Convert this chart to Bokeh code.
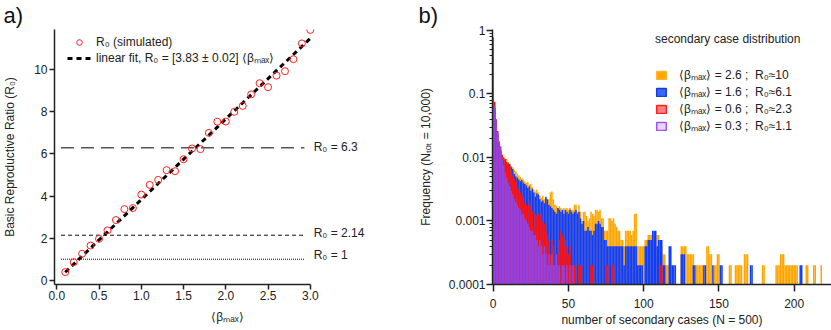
from bokeh.plotting import figure
from bokeh.layouts import row
from bokeh.models import (Legend, LegendItem, NumeralTickFormatter, FixedTicker,
                          CustomJSTickFormatter, Range1d)
from bokeh.core.properties import value
from bokeh.embed import file_html
from bokeh.resources import INLINE

FONT = "Liberation Sans"

# ---------------- panel a) data ----------------
beta_max = [0.1, 0.2, 0.3, 0.4, 0.5, 0.6, 0.7, 0.8, 0.9, 1.0,
            1.1, 1.2, 1.3, 1.4, 1.5, 1.6, 1.7, 1.8, 1.9, 2.0,
            2.1, 2.2, 2.3, 2.4, 2.5, 2.6, 2.7, 2.8, 2.9, 3.0]
r0_simulated = [0.39, 0.86, 1.26, 1.65, 1.97, 2.37, 2.86, 3.38, 3.43, 4.07,
                4.53, 4.77, 5.23, 5.18, 5.75, 6.26, 6.23, 7.00, 7.53, 7.54,
                8.00, 8.28, 8.83, 9.36, 9.17, 9.72, 9.93, 10.50, 11.25, 11.89]
fit_slope = 3.83
fit_x = [0.1, 3.0]
threshold_r0 = [6.3, 2.14, 1.0]
threshold_labels = ["R₀ = 6.3", "R₀ = 2.14", "R₀ = 1"]
threshold_x = [0.05, 2.93]

# ---------------- panel b) data (counts out of N_tot = 10,000; index = number of secondary cases) ----------------
N_TOT = 10000
counts_beta_2_6 = [
    3000, 550, 330, 220, 160, 125, 105, 100, 96, 94,
    85, 80, 74, 70, 64, 60, 56, 52, 49, 47,
    45, 42, 40, 41, 37, 38, 34, 31, 29, 31,
    28, 25, 23, 25, 22, 23, 21, 22, 28, 29,
    22, 18, 17, 16, 17, 16, 15, 16, 15, 16,
    15, 16, 15, 15, 18, 18, 14, 18, 14, 10,
    14, 14, 12, 10, 11, 14, 13, 12, 15, 15,
    14, 15, 11, 11, 7, 7, 7, 11, 11, 10,
    11, 9, 8, 7, 7, 5, 5, 4, 7, 7,
    7, 7, 6, 7, 13, 13, 4, 4, 4, 4,
    4, 5, 5, 6, 6, 6, 6, 5, 5, 6,
    6, 4, 4, 3, 3, 2, 2, 2, 2, 1,
    0, 0, 0, 0, 0, 4, 4, 4, 4, 3,
    3, 3, 3, 3, 1, 2, 2, 2, 2, 2,
    1, 1, 4, 4, 3, 3, 1, 2, 2, 3,
    3, 0, 0, 0, 0, 0, 0, 2, 2, 0,
    0, 2, 2, 2, 2, 2, 0, 3, 3, 3,
    0, 0, 0, 0, 0, 0, 0, 0, 0, 2,
    2, 0, 0, 0, 0, 0, 0, 0, 2, 2,
    2, 3, 3, 3, 2, 2, 2, 2, 2, 2,
    2, 2, 2, 0, 0, 0, 0, 0, 2, 2,
    0, 0, 0, 2, 2, 0, 0, 0, 2, 0]
counts_beta_1_6 = [
    3500, 600, 350, 230, 170, 130, 100, 90, 82, 78,
    80, 78, 70, 65, 55, 50, 48, 45, 42, 44,
    40, 38, 36, 33, 35, 30, 32, 28, 24, 27,
    26, 22, 20, 21, 19, 24, 22, 18, 17, 16,
    15, 14, 13, 16, 15, 14, 15, 13, 15, 14,
    13, 15, 14, 13, 14, 15, 13, 14, 11, 9,
    10, 7, 7, 8, 7, 7, 6, 7, 9, 9,
    10, 9, 8, 8, 5, 5, 4, 4, 4, 4,
    4, 4, 4, 4, 4, 4, 4, 2, 4, 4,
    4, 4, 4, 4, 4, 4, 2, 2, 2, 2,
    1, 4, 4, 5, 5, 5, 7, 7, 7, 4,
    5, 5, 5, 2, 2, 1, 1, 4, 4, 2,
    2, 2, 1, 0, 0, 3, 3, 3, 1, 0,
    0, 0, 0, 2, 2, 0, 0, 0, 0, 0,
    2, 2, 0, 0, 0, 0, 2, 0, 0, 0,
    0, 2, 2, 0, 0, 0, 0, 0, 0, 0,
    0, 0, 0, 0, 0, 0, 0, 0, 0, 0,
    0, 2, 2, 0, 0, 0, 0, 0, 0, 0,
    0, 0, 0, 0, 0, 0, 0, 0, 0, 0,
    0, 0, 0, 0, 0, 0, 0, 0, 0, 0,
    0, 0, 0, 0, 2, 2]
counts_beta_0_6 = [
    5500, 750, 400, 260, 175, 125, 110, 100, 94, 85,
    80, 73, 62, 52, 46, 42, 36, 32, 28, 25,
    24, 20, 18, 17, 20, 17, 14, 8, 13, 12,
    13, 11, 13, 10, 9, 7, 6, 5, 3, 5,
    4, 2, 3, 3, 5, 7, 6, 4, 5, 4,
    3, 4, 2, 2, 2, 1, 1, 2, 2, 0,
    0, 0, 0, 0, 0, 2, 2, 0, 0, 0,
    0, 0, 0, 0, 0, 2, 2, 0, 0, 2,
    2, 0, 0, 0, 0, 0, 0, 0, 0, 0,
    0, 0, 0, 0, 0, 0, 0, 0, 0, 0,
    0, 0, 0, 0, 0, 0, 0, 0, 0, 0,
    0, 2, 2]
counts_beta_0_3 = [
    7770, 650, 380, 245, 180, 150, 95, 75, 58, 48,
    40, 35, 30, 26, 22, 20, 18, 16, 15, 13,
    13, 11, 10, 9, 8, 7, 7, 6, 6, 5,
    4, 5, 4, 3, 4, 3, 2, 3, 2, 3,
    2, 2, 3, 2, 2, 1, 2, 2, 1, 2,
    1, 2, 1, 2, 1, 1]
series_labels = ["⟨βₘₐₓ⟩ = 2.6 ;  R₀≈10",
                 "⟨βₘₐₓ⟩ = 1.6 ;  R₀≈6.1",
                 "⟨βₘₐₓ⟩ = 0.6 ;  R₀≈2.3",
                 "⟨βₘₐₓ⟩ = 0.3 ;  R₀≈1.1"]
bar_colors = ["#FFA500", "#0D3DFF", "#FF1010", "#9342E2"]
swatch_fill = ["#FFA500", "#3A66FF", "#FF8080", "#E6D6FA"]
swatch_line = ["#FFB52E", "#1A3FD0", "#FF2020", "#A055EE"]


def style_axes(p):
    for ax in (p.xaxis[0], p.yaxis[0]):
        ax.axis_line_width = 1.5
        ax.axis_line_color = "#222222"
        ax.major_tick_line_color = "#222222"
        ax.major_tick_line_width = 1.5
        ax.major_tick_in = 0
        ax.major_tick_out = 5
        ax.minor_tick_in = 0
        ax.minor_tick_out = 3
        ax.minor_tick_line_color = "#222222"
        ax.major_label_text_font = FONT
        ax.major_label_text_font_size = "12px"
        ax.major_label_text_color = "#222222"
        ax.axis_label_text_font = FONT
        ax.axis_label_text_font_size = "12px"
        ax.axis_label_text_font_style = "normal"
        ax.axis_label_text_color = "#222222"
    p.xgrid.visible = False
    p.ygrid.visible = False
    p.outline_line_color = None


def style_title(p, offset):
    p.title.text_font = FONT
    p.title.text_font_size = "22px"
    p.title.text_font_style = "normal"
    p.title.text_color = "#111111"
    p.title.align = "left"
    p.title.vertical_align = "top"
    p.title.offset = offset
    p.title.standoff = 0


# ---------------- panel a) ----------------
p1 = figure(width=408, height=330, output_backend="svg", toolbar_location=None,
            title="a)",
            x_range=Range1d(-0.027, 4.067), y_range=Range1d(-0.2, 11.91),
            min_border_left=52, min_border_right=8, min_border_top=27, min_border_bottom=45)
style_axes(p1)
style_title(p1, -51)
p1.xaxis.ticker = FixedTicker(ticks=[0, 0.5, 1.0, 1.5, 2.0, 2.5, 3.0])
p1.xaxis.formatter = NumeralTickFormatter(format="0.0")
p1.xaxis.bounds = (-0.027, 3.0)
p1.yaxis.ticker = FixedTicker(ticks=[0, 2, 4, 6, 8, 10])
p1.xaxis.minor_tick_line_color = None
p1.yaxis.minor_tick_line_color = None
p1.xaxis.major_label_standoff = 1
p1.xaxis.axis_label_standoff = 7
p1.yaxis.major_label_standoff = 2
p1.yaxis.axis_label_standoff = 14
p1.xaxis.axis_label = "⟨βₘₐₓ⟩"
p1.yaxis.axis_label = "Basic Reproductive Ratio (R₀)"

dash_styles = ["13 7", "4 3", "1 1"]
line_cols = ["#555555", "#111111", "#111111"]
line_w = [1.5, 1.0, 1.0]
label_offsets = [-1, -2, -4]
for v, lab, d, c, w, off in zip(threshold_r0, threshold_labels, dash_styles, line_cols, line_w, label_offsets):
    p1.line(threshold_x, [v, v], line_color=c, line_width=w, line_dash=d)
    p1.text(x=[3.04], y=[v], text=[lab], text_font=value(FONT), text_font_size="12px",
            text_color="#222222", text_baseline="alphabetic", y_offset=off)

fit_y = [fit_slope * x for x in fit_x]
fit_r = p1.line(fit_x, fit_y, line_color="black", line_width=3, line_dash="5 4")
sim_r = p1.scatter(beta_max, r0_simulated, marker="circle", size=7, fill_color=None,
                   line_color="#FF2020", line_width=1)

leg1 = Legend(items=[LegendItem(label="R₀ (simulated)", renderers=[sim_r]),
                     LegendItem(label="linear fit, R₀ = [3.83 ± 0.02] ⟨βₘₐₓ⟩", renderers=[fit_r])],
              location=(13, 218), padding=0, margin=0, spacing=0,
              glyph_width=24, glyph_height=14, label_height=14, label_standoff=5,
              label_text_font=FONT, label_text_font_size="12px", label_text_color="#222222",
              border_line_color=None, background_fill_alpha=0)
p1.add_layout(leg1)

# ---------------- panel b) ----------------
p2 = figure(width=423, height=330, output_backend="svg", toolbar_location=None,
            title="b)",
            x_range=Range1d(-0.47, 224.8), y_range=Range1d(1e-4, 1.03), y_axis_type="log",
            min_border_left=84, min_border_right=0, min_border_top=29, min_border_bottom=46)
style_axes(p2)
style_title(p2, -74)
p2.xaxis.ticker = FixedTicker(ticks=[0, 50, 100, 150, 200])
p2.xaxis.minor_tick_line_color = None
p2.xaxis.major_tick_out = 7
p2.xaxis.major_label_standoff = 7
p2.xaxis.axis_label_standoff = 2
minor = [m * 10.0 ** e for e in range(-4, 0) for m in range(2, 10)]
p2.yaxis.ticker = FixedTicker(ticks=[1e-4, 1e-3, 1e-2, 1e-1, 1.0], minor_ticks=minor)
p2.yaxis.formatter = CustomJSTickFormatter(code="return Number(tick.toPrecision(1)).toString();")
p2.yaxis.major_tick_out = 6
p2.yaxis.major_label_standoff = 1
p2.yaxis.axis_label_standoff = 13
p2.xaxis.axis_label = "number of secondary cases (N = 500)"
p2.yaxis.axis_label = "Frequency (Nₜₒₜ = 10,000)"

all_counts = [counts_beta_2_6, counts_beta_1_6, counts_beta_0_6, counts_beta_0_3]
legend_items = []
for counts, col, sf, sl, lab in zip(all_counts, bar_colors, swatch_fill, swatch_line, series_labels):
    ks = [k for k, c in enumerate(counts) if c > 0]
    fr = [counts[k] / N_TOT for k in ks]
    p2.vbar(x=ks, top=fr, bottom=1e-4, width=1.0, fill_color=col, line_color=None)
    # legend-only swatch renderer (placed outside the visible x range)
    dummy = p2.vbar(x=[-1000], top=[0.5], bottom=1e-4, width=1.0, fill_color=sf,
                    line_color=sl, line_width=1.5)
    legend_items.append(LegendItem(label=lab, renderers=[dummy]))

leg2 = Legend(items=legend_items, location=(163, 150), padding=0, margin=0, spacing=0,
              glyph_width=12, glyph_height=10, label_height=14, label_standoff=12,
              label_text_font=FONT, label_text_font_size="12px", label_text_color="#222222",
              title="secondary case distribution", title_text_font=FONT, title_text_font_size="12px",
              title_text_font_style="normal", title_text_color="#222222", title_standoff=20,
              border_line_color=None, background_fill_alpha=0)
p2.add_layout(leg2)

layout = row(p1, p2)
open("out.html", "w").write(file_html(layout, INLINE))
